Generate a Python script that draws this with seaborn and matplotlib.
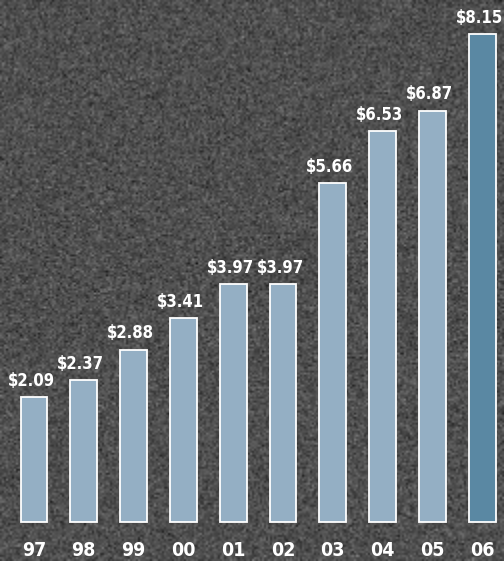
import numpy as np
import pandas as pd
import matplotlib
matplotlib.use("Agg")
import matplotlib.pyplot as plt
import seaborn as sns

years = ["97", "98", "99", "00", "01", "02", "03", "04", "05", "06"]
values = [2.09, 2.37, 2.88, 3.41, 3.97, 3.97, 5.66, 6.53, 6.87, 8.15]
labels = ["$2.09", "$2.37", "$2.88", "$3.41", "$3.97", "$3.97", "$5.66", "$6.53", "$6.87", "$8.15"]

light = "#94afc4"
dark = "#5a88a3"
colors = [light] * 9 + [dark]

sns.set_theme(style="white")
plt.rcParams["font.family"] = ["DejaVu Sans"]

df = pd.DataFrame({"year": years, "value": values})

fig = plt.figure(figsize=(5.04, 5.61), dpi=100)
ax = fig.add_axes([0, 0, 1, 1])

# textured charcoal backdrop
rng = np.random.default_rng(7)
tex = rng.normal(0.31, 0.06, size=(280, 252))
ax.imshow(tex, cmap="gray", vmin=0, vmax=1, aspect="auto",
          extent=(-0.683, 9.438, -0.651, 8.715), zorder=0, interpolation="bilinear")

sns.barplot(data=df, x="year", y="value", hue="year", palette=colors, legend=False,
            saturation=1, width=0.54, edgecolor="white", linewidth=1.3, ax=ax, zorder=2)

for i, (v, lab) in enumerate(zip(values, labels)):
    ax.text(i - 0.06, v + 0.12, lab, ha="center", va="bottom", color="white",
            fontsize=12, fontweight="bold", fontstretch="condensed", zorder=3)
    ax.text(i, -0.48, years[i], ha="center", va="center", color="white",
            fontsize=14, fontweight="bold", fontstretch="condensed", zorder=3)

ax.set_xlim(-0.683, 9.438)
ax.set_ylim(-0.651, 8.715)
ax.set_axis_off()

fig.savefig("out.png", dpi=100)
